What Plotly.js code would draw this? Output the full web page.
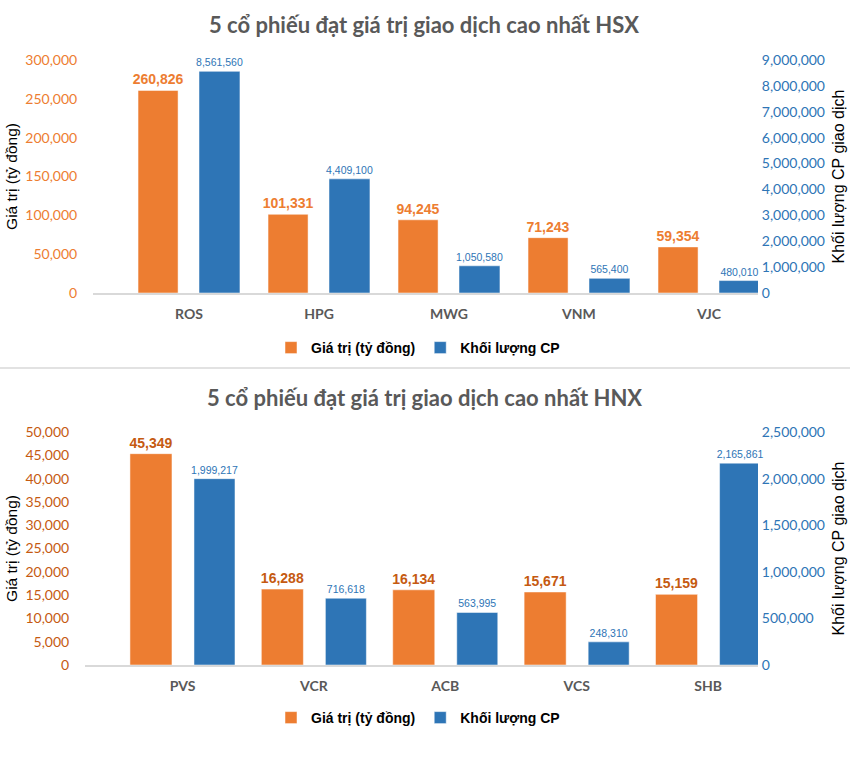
<!DOCTYPE html>
<html><head><meta charset="utf-8">
<script src="https://cdn.plot.ly/plotly-3.0.1.min.js"></script>
<style>html,body{margin:0;padding:0;background:#fff}</style>
</head><body><div id="chart" style="width:850px;height:772px"></div>
<script>
// ---- data ----
const hsxTitle = '5 cổ phiếu đạt giá trị giao dịch cao nhất HSX';
const hnxTitle = '5 cổ phiếu đạt giá trị giao dịch cao nhất HNX';
const hsxCodes = ['ROS', 'HPG', 'MWG', 'VNM', 'VJC'];
const hsxValue = [260826, 101331, 94245, 71243, 59354];
const hsxVolume = [8561560, 4409100, 1050580, 565400, 480010];
const hnxCodes = ['PVS', 'VCR', 'ACB', 'VCS', 'SHB'];
const hnxValue = [45349, 16288, 16134, 15671, 15159];
const hnxVolume = [1999217, 716618, 563995, 248310, 2165861];
const seriesNames = ['Giá trị (tỷ đồng)', 'Khối lượng CP'];
const leftTitle = 'Giá trị (tỷ đồng)';
const rightTitle = 'Khối lượng CP giao dịch';

// ---- styles ----
const W = 850, H = 772;
const ORANGE = '#ED7D31', DARK_ORANGE = '#C55A11', BLUE = '#2E75B6';
const ARIAL = 'Liberation Sans, Arial, sans-serif';
const CAL = 'Lato, Open Sans, sans-serif';
const px = v => v / W, py = v => 1 - v / H;

function valueTrace(x, y, xa, ya, labelColor, legend, offset, width) {
  return {
    type: 'bar', name: seriesNames[0], x: x, y: y, xaxis: xa, yaxis: ya, legend: legend,
    marker: {color: ORANGE, line: {color: '#ffffff', width: 0.5}},
    offset: offset, width: width,
    texttemplate: '%{y:,}', textposition: 'outside', constraintext: 'none', cliponaxis: false,
    textfont: {family: ARIAL, size: 14, color: labelColor, weight: 'bold'},
    hoverinfo: 'x+y'
  };
}
function volumeTrace(x, y, xa, ya, legend, offset, width) {
  return {
    type: 'bar', name: seriesNames[1], x: x, y: y, xaxis: xa, yaxis: ya, legend: legend,
    marker: {color: BLUE, line: {color: '#ffffff', width: 0.5}},
    offset: offset, width: width,
    texttemplate: '%{y:,}', textposition: 'outside', constraintext: 'none', cliponaxis: false,
    textfont: {family: ARIAL, size: 10.5, color: BLUE},
    hoverinfo: 'x+y'
  };
}

const traces = [
  valueTrace(hsxCodes, hsxValue, 'x', 'y', ORANGE, 'legend', -0.392, 0.308),
  volumeTrace(hsxCodes, hsxVolume, 'x', 'y2', 'legend', 0.077, 0.315),
  valueTrace(hnxCodes, hnxValue, 'x2', 'y3', DARK_ORANGE, 'legend2', -0.40, 0.32),
  volumeTrace(hnxCodes, hnxVolume, 'x2', 'y4', 'legend2', 0.0875, 0.312)
];

function xAxis(domainL, domainR, anchor, range) {
  return {
    type: 'category', domain: [px(domainL), px(domainR)], anchor: anchor, range: range,
    showline: true, linecolor: '#D9D9D9', linewidth: 1.5, showgrid: false, zeroline: false,
    ticks: 'outside', ticklen: 8, tickcolor: 'rgba(0,0,0,0)',
    tickfont: {family: CAL, size: 14, color: '#595959', weight: 'bold'}, fixedrange: true
  };
}
function leftAxis(top, bottom, anchor, range, dtick, color) {
  return {
    domain: [py(bottom), py(top)], anchor: anchor, range: range, dtick: dtick,
    tickformat: ',', showgrid: false, zeroline: false, showline: false,
    ticks: 'outside', ticklen: 12, tickcolor: 'rgba(0,0,0,0)',
    tickfont: {family: CAL, size: 14, color: color},
    title: {text: leftTitle, font: {family: ARIAL, size: 15.5, color: '#000'}, standoff: 3},
    fixedrange: true
  };
}
function rightAxis(overlay, anchor, range, dtick) {
  return {
    overlaying: overlay, side: 'right', anchor: anchor, range: range, dtick: dtick,
    tickformat: ',', showgrid: false, zeroline: false, showline: false,
    ticks: 'outside', ticklen: 0, tickcolor: 'rgba(0,0,0,0)',
    tickfont: {family: CAL, size: 14, color: BLUE},
    title: {text: rightTitle, font: {family: ARIAL, size: 16, color: '#000'}, standoff: 8},
    fixedrange: true
  };
}

const legendStyle = {
  orientation: 'h', x: px(418), xanchor: 'center', yanchor: 'middle',
  font: {family: ARIAL, size: 14, color: '#000', weight: 'bold'},
  bgcolor: 'rgba(0,0,0,0)', traceorder: 'normal', itemclick: false, itemdoubleclick: false
};

const layout = {
  width: W, height: H, autosize: false,
  margin: {l: 0, r: 0, t: 0, b: 0},
  paper_bgcolor: '#ffffff', plot_bgcolor: 'rgba(0,0,0,0)',
  showlegend: true,
  title: {text: hsxTitle, x: px(424), xanchor: 'center', y: py(25), yanchor: 'middle',
          font: {family: CAL, size: 22, color: '#595959', weight: 'bold'}},
  xaxis: xAxis(93, 758, 'y', [-0.7385, 4.377]),
  yaxis: leftAxis(60, 293, 'x', [0, 300000], 50000, ORANGE),
  yaxis2: rightAxis('y', 'x', [0, 9000000], 1000000),
  xaxis2: xAxis(85, 758, 'y3', [-0.742, 4.380]),
  yaxis3: leftAxis(432, 665, 'x2', [0, 50000], 5000, DARK_ORANGE),
  yaxis4: rightAxis('y3', 'x2', [0, 2500000], 500000),
  legend: Object.assign({}, legendStyle, {y: py(348)}),
  legend2: Object.assign({}, legendStyle, {y: py(718)}),
  annotations: [
    {text: hnxTitle, xref: 'paper', yref: 'paper', x: px(424), y: py(397),
     xanchor: 'center', yanchor: 'middle', showarrow: false,
     font: {family: CAL, size: 22, color: '#595959', weight: 'bold'}}
  ],
  shapes: [
    {type: 'line', xref: 'paper', yref: 'paper', x0: 0, x1: 1, y0: py(368), y1: py(368),
     line: {color: '#D9D9D9', width: 1.5}}
  ],
  bargap: 0.06
};

Plotly.newPlot('chart', traces, layout, {displayModeBar: false, staticPlot: true});
</script></body></html>
